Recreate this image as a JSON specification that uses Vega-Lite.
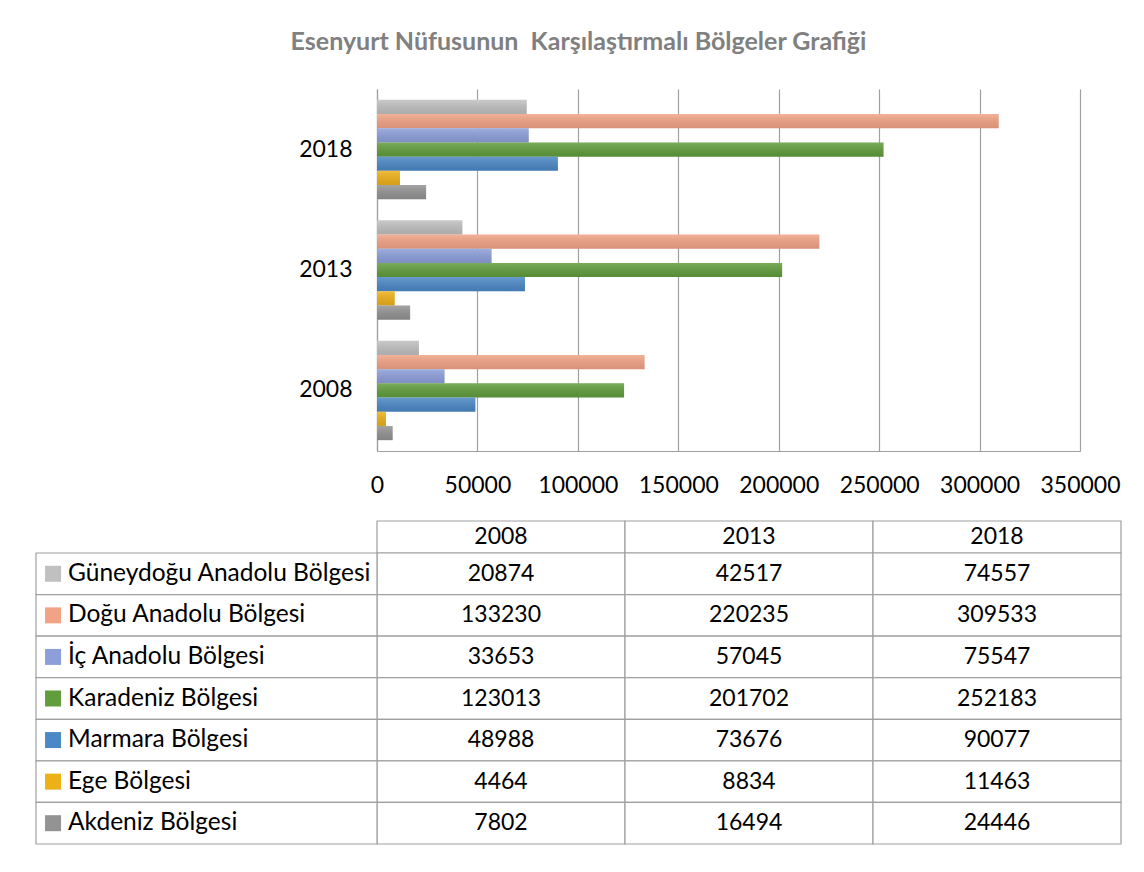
{
  "$schema": "https://vega.github.io/schema/vega-lite/v6.json",
  "padding": {"left": 35, "top": 30, "right": 5, "bottom": 5},
  "background": "white",
  "config": {"font": "Lato", "view": {"stroke": null}, "text": {"font": "Lato"}},
  "title": {"text": "Esenyurt Nüfusunun\u00a0 Karşılaştırmalı Bölgeler Grafiği", "font": "Lato", "fontSize": 25, "fontWeight": "bold", "color": "#808080", "anchor": "middle", "offset": 34},
  "bounds": "flush",
  "spacing": 70,
  "datasets": {
    "pop": [
      {"year": "2008", "series": "Güneydoğu Anadolu Bölgesi", "value": 20874},
      {"year": "2013", "series": "Güneydoğu Anadolu Bölgesi", "value": 42517},
      {"year": "2018", "series": "Güneydoğu Anadolu Bölgesi", "value": 74557},
      {"year": "2008", "series": "Doğu Anadolu Bölgesi", "value": 133230},
      {"year": "2013", "series": "Doğu Anadolu Bölgesi", "value": 220235},
      {"year": "2018", "series": "Doğu Anadolu Bölgesi", "value": 309533},
      {"year": "2008", "series": "İç Anadolu Bölgesi", "value": 33653},
      {"year": "2013", "series": "İç Anadolu Bölgesi", "value": 57045},
      {"year": "2018", "series": "İç Anadolu Bölgesi", "value": 75547},
      {"year": "2008", "series": "Karadeniz Bölgesi", "value": 123013},
      {"year": "2013", "series": "Karadeniz Bölgesi", "value": 201702},
      {"year": "2018", "series": "Karadeniz Bölgesi", "value": 252183},
      {"year": "2008", "series": "Marmara Bölgesi", "value": 48988},
      {"year": "2013", "series": "Marmara Bölgesi", "value": 73676},
      {"year": "2018", "series": "Marmara Bölgesi", "value": 90077},
      {"year": "2008", "series": "Ege Bölgesi", "value": 4464},
      {"year": "2013", "series": "Ege Bölgesi", "value": 8834},
      {"year": "2018", "series": "Ege Bölgesi", "value": 11463},
      {"year": "2008", "series": "Akdeniz Bölgesi", "value": 7802},
      {"year": "2013", "series": "Akdeniz Bölgesi", "value": 16494},
      {"year": "2018", "series": "Akdeniz Bölgesi", "value": 24446}
    ],
    "years": [{"year": "2008"}, {"year": "2013"}, {"year": "2018"}]
  },
  "vconcat": [
    {
      "width": 703,
      "height": 362,
      "data": {"name": "pop"},
      "encoding": {
        "y": {"field": "year", "type": "nominal", "sort": ["2018", "2013", "2008"], "scale": {"paddingInner": 0.175, "paddingOuter": 0.09}, "axis": {"title": null, "ticks": false, "labelFont": "Lato", "labelFontSize": 23, "labelColor": "black", "labelPadding": 25, "domainColor": "#a0a0a0", "domainWidth": 1.2}},
        "yOffset": {"field": "series", "type": "nominal", "sort": ["Güneydoğu Anadolu Bölgesi", "Doğu Anadolu Bölgesi", "İç Anadolu Bölgesi", "Karadeniz Bölgesi", "Marmara Bölgesi", "Ege Bölgesi", "Akdeniz Bölgesi"], "scale": {"paddingInner": 0, "paddingOuter": 0}},
        "x": {"field": "value", "type": "quantitative", "scale": {"domain": [0, 350000], "nice": false}, "axis": {"title": null, "values": [0, 50000, 100000, 150000, 200000, 250000, 300000, 350000], "format": "d", "grid": true, "gridColor": "#a0a0a0", "gridWidth": 1.2, "ticks": false, "domainColor": "#a0a0a0", "domainWidth": 1.2, "labelFont": "Lato", "labelFontSize": 23, "labelColor": "black", "labelPadding": 23, "labelFlush": false}}
      },
      "layer": [
        {"mark": {"type": "bar"},
         "encoding": {
           "color": {"field": "series", "type": "nominal", "legend": null, "scale": {
             "domain": ["Güneydoğu Anadolu Bölgesi", "Doğu Anadolu Bölgesi", "İç Anadolu Bölgesi", "Karadeniz Bölgesi", "Marmara Bölgesi", "Ege Bölgesi", "Akdeniz Bölgesi"],
             "range": ["#c0c0c0", "#f1a385", "#8d9fdb", "#619d3c", "#4a88c6", "#edb118", "#939393"]}}}},
        {"mark": {"type": "bar", "fill": {"gradient": "linear", "x1": 0, "y1": 0, "x2": 0, "y2": 1, "stops": [{"offset": 0, "color": "rgba(255,255,255,0.16)"}, {"offset": 1, "color": "rgba(0,0,0,0.10)"}]}}}
      ]
    },
    {
      "bounds": "flush",
      "spacing": 0,
      "vconcat": [
        {
          "width": 744,
          "height": 32,
          "data": {"name": "years"},
          "layer": [
            {"mark": {"type": "rect", "fill": "white", "stroke": "#a0a0a0", "strokeWidth": 1.2},
             "encoding": {"x": {"field": "year", "type": "nominal", "scale": {"domain": ["2008", "2013", "2018"], "paddingInner": 0, "paddingOuter": 0}, "axis": null}}},
            {"mark": {"type": "text", "fontSize": 23, "color": "black"},
             "encoding": {"x": {"field": "year", "type": "nominal", "scale": {"domain": ["2008", "2013", "2018"], "paddingInner": 0, "paddingOuter": 0}, "axis": null}, "text": {"field": "year"}}}
          ]
        },
        {
          "width": 744,
          "height": 291,
          "data": {"name": "pop"},
          "resolve": {"scale": {"x": "independent"}},
          "layer": [
            {
              "layer": [
                {"mark": {"type": "rect", "fill": "white", "stroke": "#a0a0a0", "strokeWidth": 1.2},
                 "encoding": {
                   "x": {"field": "year", "type": "nominal", "scale": {"domain": ["2008", "2013", "2018"], "paddingInner": 0, "paddingOuter": 0}, "axis": null},
                   "y": {"field": "series", "type": "nominal", "scale": {"domain": ["Güneydoğu Anadolu Bölgesi", "Doğu Anadolu Bölgesi", "İç Anadolu Bölgesi", "Karadeniz Bölgesi", "Marmara Bölgesi", "Ege Bölgesi", "Akdeniz Bölgesi"], "paddingInner": 0, "paddingOuter": 0}, "axis": null}}},
                {"mark": {"type": "text", "fontSize": 23, "color": "black"},
                 "encoding": {
                   "x": {"field": "year", "type": "nominal", "scale": {"domain": ["2008", "2013", "2018"], "paddingInner": 0, "paddingOuter": 0}, "axis": null},
                   "y": {"field": "series", "type": "nominal", "scale": {"domain": ["Güneydoğu Anadolu Bölgesi", "Doğu Anadolu Bölgesi", "İç Anadolu Bölgesi", "Karadeniz Bölgesi", "Marmara Bölgesi", "Ege Bölgesi", "Akdeniz Bölgesi"], "paddingInner": 0, "paddingOuter": 0}, "axis": null},
                   "text": {"field": "value", "type": "quantitative", "format": "d"}}}
              ]
            },
            {
              "transform": [{"filter": "datum.year == '2008'"}],
              "layer": [
                {"mark": {"type": "rect", "fill": "white", "stroke": "#a0a0a0", "strokeWidth": 1.2},
                 "encoding": {
                   "x": {"datum": "L", "type": "nominal", "scale": {"domain": ["L"], "range": [-341, 0], "paddingInner": 0, "paddingOuter": 0}, "axis": null},
                   "y": {"field": "series", "type": "nominal", "scale": {"domain": ["Güneydoğu Anadolu Bölgesi", "Doğu Anadolu Bölgesi", "İç Anadolu Bölgesi", "Karadeniz Bölgesi", "Marmara Bölgesi", "Ege Bölgesi", "Akdeniz Bölgesi"], "paddingInner": 0, "paddingOuter": 0}, "axis": null}}},
                {"mark": {"type": "point", "shape": "square", "size": 256, "filled": true, "opacity": 1, "strokeWidth": 0},
                 "encoding": {
                   "x": {"datum": "L", "type": "nominal", "bandPosition": 0.05, "scale": {"domain": ["L"], "range": [-341, 0], "paddingInner": 0, "paddingOuter": 0}, "axis": null},
                   "y": {"field": "series", "type": "nominal", "scale": {"domain": ["Güneydoğu Anadolu Bölgesi", "Doğu Anadolu Bölgesi", "İç Anadolu Bölgesi", "Karadeniz Bölgesi", "Marmara Bölgesi", "Ege Bölgesi", "Akdeniz Bölgesi"], "paddingInner": 0, "paddingOuter": 0}, "axis": null},
                   "color": {"field": "series", "type": "nominal", "legend": null, "scale": {
                     "domain": ["Güneydoğu Anadolu Bölgesi", "Doğu Anadolu Bölgesi", "İç Anadolu Bölgesi", "Karadeniz Bölgesi", "Marmara Bölgesi", "Ege Bölgesi", "Akdeniz Bölgesi"],
                     "range": ["#c0c0c0", "#f1a385", "#8d9fdb", "#619d3c", "#4a88c6", "#edb118", "#939393"]}}}},
                {"mark": {"type": "text", "fontSize": 24.5, "align": "left", "color": "black"},
                 "encoding": {
                   "x": {"datum": "L", "type": "nominal", "bandPosition": 0.094, "scale": {"domain": ["L"], "range": [-341, 0], "paddingInner": 0, "paddingOuter": 0}, "axis": null},
                   "y": {"field": "series", "type": "nominal", "scale": {"domain": ["Güneydoğu Anadolu Bölgesi", "Doğu Anadolu Bölgesi", "İç Anadolu Bölgesi", "Karadeniz Bölgesi", "Marmara Bölgesi", "Ege Bölgesi", "Akdeniz Bölgesi"], "paddingInner": 0, "paddingOuter": 0}, "axis": null},
                   "text": {"field": "series"}}}
              ]
            }
          ]
        }
      ]
    }
  ]
}
